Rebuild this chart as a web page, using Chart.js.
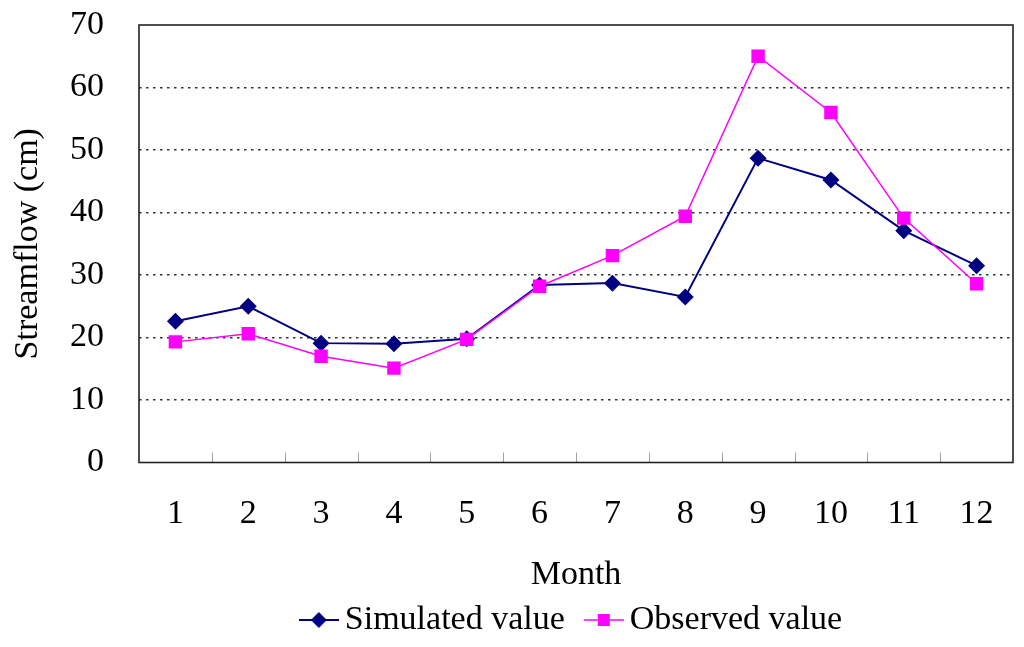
<!DOCTYPE html>
<html>
<head>
<meta charset="utf-8">
<script src="https://cdn.jsdelivr.net/npm/chart.js@4"></script>
<style>
  html, body { margin: 0; padding: 0; background: #fff; }
  #wrap { width: 1024px; height: 647px; }
</style>
</head>
<body>
<div id="wrap"><canvas id="c" width="1024" height="647"></canvas></div>
<script>
const months = ['1','2','3','4','5','6','7','8','9','10','11','12'];
const simulated = [22.6, 25.0, 19.1, 19.0, 19.8, 28.4, 28.7, 26.5, 48.7, 45.2, 37.1, 31.5];
const observed  = [19.3, 20.6, 17.0, 15.1, 19.7, 28.2, 33.1, 39.4, 65.0, 56.0, 39.1, 28.6];
const yMin = 0, yMax = 70, yStep = 10;

const FONT = 'Liberation Serif, Times New Roman, serif';
const NAVY = '#000080';
const MAGENTA = '#FF00FF';

function legendIcon(color, lineW, style, r) {
  const cv = document.createElement('canvas');
  cv.width = 40; cv.height = 20;
  const c = cv.getContext('2d');
  c.strokeStyle = color; c.lineWidth = lineW;
  c.beginPath(); c.moveTo(0, 10); c.lineTo(40, 10); c.stroke();
  c.fillStyle = color;
  c.beginPath();
  if (style === 'diamond') {
    c.moveTo(20, 10 - r); c.lineTo(20 + r, 10); c.lineTo(20, 10 + r); c.lineTo(20 - r, 10); c.closePath();
  } else {
    c.rect(20 - r, 10 - r, 2 * r, 2 * r);
  }
  c.fill();
  return cv;
}
const iconSim = legendIcon(NAVY, 2, 'diamond', 8);
const iconObs = legendIcon(MAGENTA, 1.5, 'square', 6);

const frame = {
  id: 'frame',
  afterDatasetsDraw(chart) {
    const {ctx, chartArea: a, scales: {x}} = chart;
    ctx.save();
    ctx.strokeStyle = '#a0a0a0';
    ctx.lineWidth = 1;
    for (let i = 1; i < months.length; i++) {
      const px = Math.round((x.getPixelForValue(i - 1) + x.getPixelForValue(i)) / 2) + 0.5;
      ctx.beginPath(); ctx.moveTo(px, a.bottom); ctx.lineTo(px, a.bottom - 10); ctx.stroke();
    }
    ctx.strokeStyle = '#222';
    ctx.lineWidth = 1.6;
    ctx.strokeRect(a.left, a.top, a.right - a.left, a.bottom - a.top);
    ctx.restore();
  }
};

new Chart(document.getElementById('c'), {
  type: 'line',
  data: {
    labels: months,
    datasets: [
      {
        label: 'Simulated value',
        data: simulated,
        borderColor: NAVY,
        backgroundColor: NAVY,
        borderWidth: 2,
        pointStyle: 'rectRot',
        pointRadius: 8.5,
        pointBorderWidth: 0,
        tension: 0,
        order: 2
      },
      {
        label: 'Observed value',
        data: observed,
        borderColor: MAGENTA,
        backgroundColor: MAGENTA,
        borderWidth: 1.5,
        pointStyle: 'rect',
        pointRadius: 9.5,
        pointBorderWidth: 0,
        tension: 0,
        order: 1
      }
    ]
  },
  options: {
    responsive: false,
    animation: false,
    devicePixelRatio: 1,
    layout: { padding: { left: 0, top: 25, right: 11, bottom: 0 } },
    plugins: {
      tooltip: { enabled: false },
      legend: {
        position: 'bottom',
        fullSize: false,
        labels: {
          font: { family: FONT, size: 34 },
          color: '#000',
          usePointStyle: true,
          pointStyleWidth: 18,
          padding: 30,
          generateLabels(chart) {
            return chart.data.datasets.map((d, i) => ({
              text: d.label,
              pointStyle: i === 0 ? iconSim : iconObs,
              fillStyle: d.borderColor,
              strokeStyle: d.borderColor,
              lineWidth: 0,
              hidden: false,
              datasetIndex: i,
              fontColor: '#000'
            }));
          }
        }
      }
    },
    scales: {
      x: {
        offset: true,
        grid: { display: false, drawTicks: false },
        border: { display: false },
        ticks: { font: { family: FONT, size: 34 }, color: '#000', padding: 31, maxRotation: 0 },
        title: { display: true, text: 'Month', font: { family: FONT, size: 34 }, color: '#000', padding: { top: 0, bottom: -22 } },
        afterFit(s) { s.height = 110.5; s.paddingLeft = 0; s.paddingRight = 0; }
      },
      y: {
        min: yMin, max: yMax,
        ticks: { stepSize: yStep, font: { family: FONT, size: 34 }, color: '#000', padding: 35 },
        grid: {
          drawTicks: false,
          lineWidth: 1.5,
          color: (c) => (c.tick && (c.tick.value === yMin || c.tick.value === yMax)) ? 'rgba(0,0,0,0)' : '#333'
        },
        border: { display: false, dash: [2.5, 4.5] },
        title: { display: true, text: 'Streamflow (cm)', font: { family: FONT, size: 34 }, color: '#000', padding: { top: 8, bottom: 0 } },
        afterFit(s) { s.width = 139; s.paddingTop = 0; s.paddingBottom = 0; }
      }
    }
  },
  plugins: [frame]
});
</script>
</body>
</html>
